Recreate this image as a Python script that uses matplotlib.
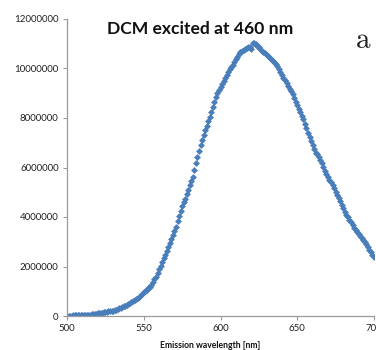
import matplotlib
matplotlib.use("Agg")
import matplotlib.pyplot as plt
from matplotlib.ticker import FuncFormatter

wavelength = list(range(500, 701))
intensity_millions = [
    0.02, 0.02, 0.02, 0.02, 0.03, 0.03, 0.03, 0.03, 0.03, 0.04,  # 500-509
    0.04, 0.04, 0.05, 0.05, 0.06, 0.06, 0.07, 0.08, 0.09, 0.10,  # 510-519
    0.11, 0.12, 0.13, 0.14, 0.15, 0.17, 0.18, 0.19, 0.20, 0.21,  # 520-529
    0.22, 0.24, 0.26, 0.28, 0.31, 0.33, 0.36, 0.39, 0.42, 0.45,  # 530-539
    0.48, 0.51, 0.55, 0.59, 0.63, 0.68, 0.73, 0.78, 0.84, 0.89,  # 540-549
    0.95, 1.00, 1.06, 1.12, 1.18, 1.27, 1.37, 1.48, 1.59, 1.74,  # 550-559
    1.89, 2.04, 2.18, 2.33, 2.48, 2.63, 2.79, 2.94, 3.10, 3.27,  # 560-569
    3.44, 3.61, 3.82, 4.03, 4.24, 4.45, 4.60, 4.72, 4.92, 5.10,  # 570-579
    5.30, 5.47, 5.63, 5.90, 6.17, 6.44, 6.68, 6.92, 7.12, 7.32,  # 580-589
    7.50, 7.68, 7.86, 8.05, 8.26, 8.46, 8.66, 8.86, 8.99, 9.12,  # 590-599
    9.25, 9.37, 9.49, 9.61, 9.73, 9.85, 9.96, 10.06, 10.16, 10.27,  # 600-609
    10.37, 10.47, 10.57, 10.68, 10.72, 10.76, 10.80, 10.84, 10.86, 10.88,  # 610-619
    10.78, 11.02, 11.05, 11.00, 10.92, 10.85, 10.78, 10.72, 10.65, 10.61,  # 620-629
    10.55, 10.49, 10.44, 10.38, 10.32, 10.26, 10.20, 10.09, 9.97, 9.86,  # 630-639
    9.75, 9.63, 9.52, 9.40, 9.29, 9.18, 9.11, 8.96, 8.81, 8.66,  # 640-649
    8.52, 8.38, 8.23, 8.10, 7.95, 7.77, 7.59, 7.41, 7.24, 7.07,  # 650-659
    6.91, 6.74, 6.60, 6.56, 6.44, 6.31, 6.19, 6.03, 5.87, 5.73,  # 660-669
    5.62, 5.51, 5.40, 5.29, 5.16, 5.02, 4.89, 4.76, 4.63, 4.50,  # 670-679
    4.36, 4.22, 4.10, 3.99, 3.89, 3.79, 3.68, 3.57, 3.47, 3.39,  # 680-689
    3.31, 3.23, 3.15, 3.07, 2.99, 2.90, 2.79, 2.68, 2.57, 2.46,  # 690-699
    2.40,  # 700
]
intensity = [v * 1e6 for v in intensity_millions]

x_ticks = [500, 550, 600, 650, 700]
y_ticks = [0, 2000000, 4000000, 6000000, 8000000, 10000000, 12000000]

title_text = "DCM excited at 460 nm"
xlabel_text = "Emission wavelength [nm]"
panel_letter = "a"

fig = plt.figure(figsize=(3.76, 3.50), dpi=100)
ax = fig.add_axes([67 / 376, 34 / 350, 307 / 376, 297 / 350])

ax.plot(wavelength, intensity, linestyle="none", marker="D",
        markersize=3.5, markeredgewidth=0, color="#4A7EBB")

ax.set_xlim(500, 700)
ax.set_ylim(0, 12000000)
ax.set_xticks(x_ticks)
ax.set_yticks(y_ticks)
ax.yaxis.set_major_formatter(FuncFormatter(lambda v, p: f"{int(v)}"))

for s in ["top", "right"]:
    ax.spines[s].set_visible(False)
for s in ["left", "bottom"]:
    ax.spines[s].set_color("#9a9a9a")
    ax.spines[s].set_linewidth(0.9)
ax.tick_params(axis="both", direction="out", length=3, width=0.8,
               color="#9a9a9a", labelsize=7, labelcolor="#222222", pad=3)
for lab in ax.get_xticklabels() + ax.get_yticklabels():
    lab.set_family("Lato")

fig.text(210 / 376, 1 - 345.5 / 350, xlabel_text, ha="center", va="center",
         fontsize=6.2, fontweight="bold", family="Lato", color="#111111")

fig.text(200 / 376, 1 - 29 / 350, title_text, ha="center", va="center",
         fontsize=12.6, fontweight="bold", family="Lato", color="#111111")
plt.rcParams["mathtext.fontset"] = "cm"
fig.text(363 / 376, 1 - 40 / 350, r"$\mathrm{a}$", ha="center", va="center",
         fontsize=21, color="#222222")

fig.savefig("out.png", dpi=100)
